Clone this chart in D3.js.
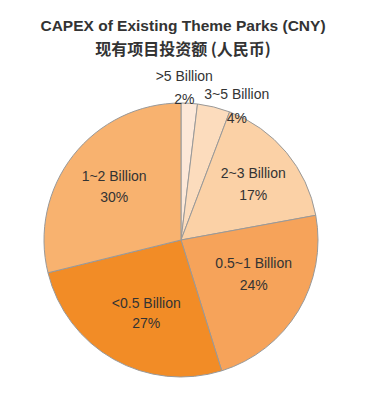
<!DOCTYPE html>
<html><head><meta charset="utf-8">
<script src="https://cdn.jsdelivr.net/npm/d3@7"></script>
<style>html,body{margin:0;padding:0;background:#fff;}svg{display:block;}</style>
</head><body>
<script>
const categories = [">5 Billion", "3~5 Billion", "2~3 Billion", "0.5~1 Billion", "<0.5 Billion", "1~2 Billion"];
const values = [2, 4, 17, 24, 27, 30];
const colors = ["#fde8d8", "#fcdcbd", "#fbd1a6", "#f6a35a", "#f28c26", "#f8b26f"];
const titleLines = ["CAPEX of Existing Theme Parks (CNY)", "现有项目投资额 (人民币)"];

const W = 365, H = 396;
const cx = 181, cy = 240, R = 137;
const svg = d3.select("body").append("svg").attr("width", W).attr("height", H);

svg.append("text").attr("x", 183).attr("y", 31).attr("text-anchor", "middle")
  .attr("font-family", "Liberation Sans, Arial, sans-serif").attr("font-weight", "bold")
  .attr("font-size", 15.5).attr("fill", "#333").text(titleLines[0]);
svg.append("text").attr("x", 183).attr("y", 55).attr("text-anchor", "middle")
  .attr("font-family", "Noto Sans CJK SC, sans-serif").attr("font-weight", "bold")
  .attr("font-size", 16).attr("fill", "#333").text(titleLines[1]);

const data = categories.map((c, i) => ({cat: c, v: values[i], color: colors[i]}));
const pie = d3.pie().sort(null).value(d => d.v);
const arcs = pie(data);
const arc = d3.arc().innerRadius(0).outerRadius(R);

const g = svg.append("g").attr("transform", `translate(${cx},${cy})`);
g.selectAll("path").data(arcs).join("path")
  .attr("d", arc).attr("fill", d => d.data.color)
  .attr("stroke", "#999").attr("stroke-width", 1);

const font = "Liberation Sans, Arial, sans-serif";
const edgeArc = d3.arc().innerRadius(R).outerRadius(R);
const labelArc = d3.arc().innerRadius(R * 0.62).outerRadius(R * 0.62);
// layout nudges: [name dx, name dy, pct dx, pct dy] relative to anchor
const outside = [true, true, false, false, false, false];
const nudges = [
  [-5, -27, -5, -4],
  [23, -13, 23, 11],
  [7, -13, 7, 9],
  [0, -21, 0, 1],
  [7, -11, 7, 9],
  [0, -12, 0, 9]
];
function addText(x, y, t) {
  g.append("text").attr("x", x).attr("y", y).attr("text-anchor", "middle")
    .attr("dominant-baseline", "central").attr("font-family", font).attr("font-size", 14)
    .attr("fill", "#333").text(t);
}
arcs.forEach((a, i) => {
  const [ax, ay] = outside[i] ? edgeArc.centroid(a) : labelArc.centroid(a);
  const n = nudges[i];
  addText(ax + n[0], ay + n[1], a.data.cat);
  addText(ax + n[2], ay + n[3], a.data.v + "%");
});
</script>
</body></html>
